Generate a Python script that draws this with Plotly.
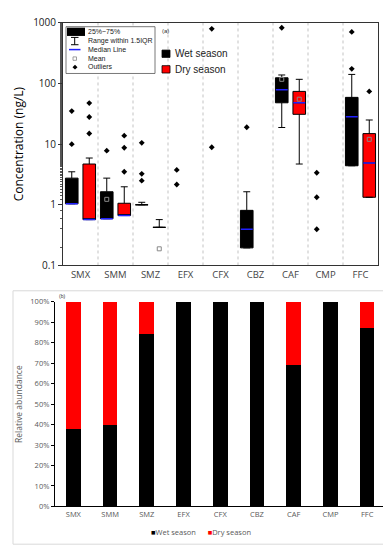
import plotly.graph_objects as go

W, H = 391, 550

# ---------------- data ----------------
categories = ["SMX", "SMM", "SMZ", "EFX", "CFX", "CBZ", "CAF", "CMP", "FFC"]

# (a) box statistics (ng/L)
wet_box_cats = ["SMX", "SMM", "SMZ", "CBZ", "CAF", "FFC"]
wet_q1 = [1.04, 0.59, 1.0, 0.195, 48, 4.4]
wet_median = [1.04, 0.59, 1.0, 0.395, 79, 28.3]
wet_q3 = [2.75, 1.64, 1.0, 0.81, 124, 59]
wet_lower = [1.04, 0.59, 1.0, 0.195, 18.8, 4.4]
wet_upper = [3.5, 2.75, 1.1, 1.64, 138, 141]

dry_box_cats = ["SMX", "SMM", "SMZ", "CAF", "FFC"]
dry_q1 = [0.57, 0.665, 0.425, 31, 1.33]
dry_median = [0.57, 0.665, 0.425, 48, 4.9]
dry_q3 = [4.7, 1.06, 0.425, 74, 14.9]
dry_lower = [0.57, 0.665, 0.425, 4.7, 1.33]
dry_upper = [5.9, 1.98, 0.57, 117, 25]

wet_mean_cats = ["SMM", "CAF"]
wet_mean = [1.23, 117]
dry_mean_cats = ["SMZ", "CAF", "FFC"]
dry_mean = [0.188, 55, 12]

wet_outlier_cats = ["SMX", "SMX", "SMM", "SMZ", "SMZ", "SMZ", "EFX", "EFX", "CFX", "CFX",
                    "CBZ", "CAF", "CMP", "CMP", "CMP", "FFC", "FFC"]
wet_outliers = [35, 10, 7.8, 10.5, 3.24, 2.5, 3.76, 2.16, 796, 8.9,
                19, 830, 3.37, 1.33, 0.395, 708, 174]
dry_outlier_cats = ["SMX", "SMX", "SMX", "SMM", "SMM", "SMM", "FFC"]
dry_outliers = [47.5, 28, 15, 13.8, 8.7, 3.5, 74]

# (b) relative abundance (%)
wet_share = [38, 40, 84.5, 100, 100, 100, 69, 100, 87]
dry_share = [62, 60, 15.5, 0, 0, 0, 31, 0, 13]

y_ticks = [0.1, 1, 10, 100, 1000]
y_tick_text = ["0.1", "1", "10", "100", "1000"]

# ---------------- helpers ----------------
OFF = 0.25
BOXW = 0.36
idx = {c: i for i, c in enumerate(categories)}


def pos(cats, off):
    return [idx[c] + off for c in cats]


def px(x, y):
    return x / W, 1 - y / H


fig = go.Figure()

# ---------------- (a) boxes ----------------
for cats, q1, med, q3, lo, up, off, col, name in [
    (wet_box_cats, wet_q1, wet_median, wet_q3, wet_lower, wet_upper, -OFF, "black", "Wet season"),
    (dry_box_cats, dry_q1, dry_median, dry_q3, dry_lower, dry_upper, OFF, "red", "Dry season"),
]:
    fig.add_trace(go.Box(
        x=pos(cats, off), q1=q1, median=med, q3=q3, lowerfence=lo, upperfence=up,
        width=BOXW, whiskerwidth=0.55, fillcolor=col,
        line=dict(color="black", width=1), name=name, showlegend=False,
        xaxis="x", yaxis="y", boxpoints=False,
    ))
    # blue median lines
    mx, my = [], []
    for p, a, m, b in zip(pos(cats, off), q1, med, q3):
        if b > a:
            mx += [p - BOXW / 2 + 0.01, p + BOXW / 2 - 0.01, None]
            my += [m, m, None]
    fig.add_trace(go.Scatter(x=mx, y=my, mode="lines", line=dict(color="#2020ff", width=1.5),
                             showlegend=False, hoverinfo="skip", xaxis="x", yaxis="y"))

for cats, vals, off in [(wet_mean_cats, wet_mean, -OFF), (dry_mean_cats, dry_mean, OFF)]:
    fig.add_trace(go.Scatter(x=pos(cats, off), y=vals, mode="markers",
                             marker=dict(symbol="square-open", size=4, color="#888888", line=dict(width=1)),
                             showlegend=False, xaxis="x", yaxis="y"))

for cats, vals, off in [(wet_outlier_cats, wet_outliers, -OFF), (dry_outlier_cats, dry_outliers, OFF)]:
    fig.add_trace(go.Scatter(x=pos(cats, off), y=vals, mode="markers",
                             marker=dict(symbol="diamond", size=4.5, color="black"),
                             showlegend=False, xaxis="x", yaxis="y"))

# ---------------- (b) bars ----------------
fig.add_trace(go.Bar(x=categories, y=wet_share, marker=dict(color="black", line=dict(width=0)),
                     name="Wet season", xaxis="x2", yaxis="y2", showlegend=False))
fig.add_trace(go.Bar(x=categories, y=dry_share, marker=dict(color="red", line=dict(width=0)),
                     name="Dry season", xaxis="x2", yaxis="y2", showlegend=False))

shapes = []
# separators
for i in range(len(categories) - 1):
    shapes.append(dict(type="line", xref="x", yref="y domain", x0=i + 0.5, x1=i + 0.5, y0=0, y1=1,
                       line=dict(color="#b4b4b4", width=0.8, dash="3px,3px"), layer="below"))

# box-legend key (a)
x0, y0 = px(58, 12)
x1, y1 = px(147, 60)
shapes.append(dict(type="rect", xref="paper", yref="paper", x0=x0, y0=y0, x1=x1, y1=y1,
                   line=dict(color="#555555", width=0.8), fillcolor="white"))
a, b = px(59, 13); c, d = px(77, 21.5)
shapes.append(dict(type="rect", xref="paper", yref="paper", x0=a, y0=b, x1=c, y1=d,
                   line=dict(width=0), fillcolor="black"))
# I-beam
for (xa, ya, xb, yb) in [(66.7, 23, 66.7, 30.5), (63, 23, 70.5, 23), (63, 30.5, 70.5, 30.5)]:
    a, b = px(xa, ya); c, d = px(xb, yb)
    shapes.append(dict(type="line", xref="paper", yref="paper", x0=a, y0=b, x1=c, y1=d,
                       line=dict(color="black", width=1)))
a, b = px(61, 35.5); c, d = px(72.5, 35.5)
shapes.append(dict(type="line", xref="paper", yref="paper", x0=a, y0=b, x1=c, y1=d,
                   line=dict(color="#2020ff", width=1.5)))
a, b = px(65, 43); c, d = px(68.5, 46.5)
shapes.append(dict(type="rect", xref="paper", yref="paper", x0=a, y0=b, x1=c, y1=d,
                   line=dict(color="#888888", width=0.8)))
# diamond
cx, cy = 67, 53.5
pts = [px(cx, cy - 2.5), px(cx + 2.5, cy), px(cx, cy + 2.5), px(cx - 2.5, cy)]
path = "M " + " L ".join(f"{p[0]:.5f},{p[1]:.5f}" for p in pts) + " Z"
shapes.append(dict(type="path", xref="paper", yref="paper", path=path, fillcolor="black",
                   line=dict(width=0)))

# season key (a)
for (ya, col) in [(36, "black"), (52, "red")]:
    a, b = px(154, ya); c, d = px(162, ya + 7.5)
    shapes.append(dict(type="rect", xref="paper", yref="paper", x0=a, y0=b, x1=c, y1=d,
                       line=dict(color="black", width=0.8), fillcolor=col))

# frame around (b)
a, b = px(5, 283); c, d = px(387, 543)
shapes.append(dict(type="rect", xref="paper", yref="paper", x0=a, y0=b, x1=c, y1=d,
                   line=dict(color="#d9d9d9", width=1), layer="below"))

annotations = []
key_labels = ["25%~75%", "Range within 1.5IQR", "Median Line", "Mean", "Outliers"]
key_y = [16.7, 26.7, 35.3, 44.3, 53.3]
for t, yy in zip(key_labels, key_y):
    a, b = px(77.5, yy)
    annotations.append(dict(xref="paper", yref="paper", x=a, y=b, text=t, showarrow=False,
                            xanchor="left", yanchor="middle",
                            font=dict(size=7, color="#222222", family="Liberation Sans")))
a, b = px(152, 16)
annotations.append(dict(xref="paper", yref="paper", x=a, y=b, text="(a)", showarrow=False,
                        xanchor="left", yanchor="middle", font=dict(size=6, color="#333333")))
for t, yy in [("Wet season", 40), ("Dry season", 56)]:
    a, b = px(165, yy)
    annotations.append(dict(xref="paper", yref="paper", x=a, y=b, text=t, showarrow=False,
                            xanchor="left", yanchor="middle",
                            font=dict(size=10, color="#222222", family="Liberation Sans")))
a, b = px(49, 288)
annotations.append(dict(xref="paper", yref="paper", x=a, y=b, text="(b)", showarrow=False,
                        xanchor="left", yanchor="middle", font=dict(size=5, color="#333333")))
a, b = px(193, 531)
annotations.append(dict(xref="paper", yref="paper", x=a, y=b,
                        text="<span style='color:black'>■</span>Wet season      "
                             "<span style='color:red'>■</span>Dry season",
                        showarrow=False, xanchor="center", yanchor="middle",
                        font=dict(size=7.5, color="#595959", family="Open Sans")))

fig.update_layout(
    width=W, height=H,
    margin=dict(l=0, r=0, t=0, b=0),
    paper_bgcolor="white", plot_bgcolor="white",
    showlegend=False,
    barmode="stack", bargap=0.6,
    boxmode="overlay",
    font=dict(family="Liberation Sans", color="black"),
    xaxis=dict(domain=[55 / W, 370 / W], anchor="y", range=[-0.5, len(categories) - 0.5],
               tickmode="array", tickvals=list(range(len(categories))), ticktext=categories,
               showgrid=False, zeroline=False, showline=True, linecolor="#333333", linewidth=1,
               mirror=True, ticks="", tickfont=dict(size=9.5, color="#444444", family="Open Sans")),
    yaxis=dict(domain=[1 - 257 / H, 1 - 8 / H], anchor="x", type="log", range=[-1, 3],
               tickmode="array", tickvals=y_ticks, ticktext=y_tick_text,
               showgrid=False, zeroline=False, showline=True, linecolor="#333333", linewidth=1,
               mirror=True, ticks="outside", ticklen=4, tickcolor="#333333",
               minor=dict(ticks="outside", ticklen=2, tickcolor="#555555", showgrid=False),
               tickfont=dict(size=10, color="#222222", family="Open Sans"),
               title=dict(text="Concentration (ng/L)", font=dict(size=12, color="black", family="Open Sans"),
                          standoff=6)),
    xaxis2=dict(domain=[47 / W, 377.5 / W], anchor="y2", type="category",
                showgrid=False, zeroline=False, showline=True, linecolor="black", linewidth=1.2,
                ticks="", tickfont=dict(size=7.5, color="#595959", family="Open Sans")),
    yaxis2=dict(domain=[1 - 504.3 / H, 1 - 294.3 / H], anchor="x2", range=[0, 100],
                dtick=10, ticksuffix="%", showgrid=False, zeroline=False,
                showline=True, linecolor="black", linewidth=1.2,
                ticks="outside", ticklen=3, tickcolor="black",
                tickfont=dict(size=7.5, color="#595959", family="Open Sans"),
                title=dict(text="Relative abundance", font=dict(size=8.5, color="#595959", family="Open Sans"),
                           standoff=6)),
    shapes=shapes,
    annotations=annotations,
)

fig.write_html("out.html")
